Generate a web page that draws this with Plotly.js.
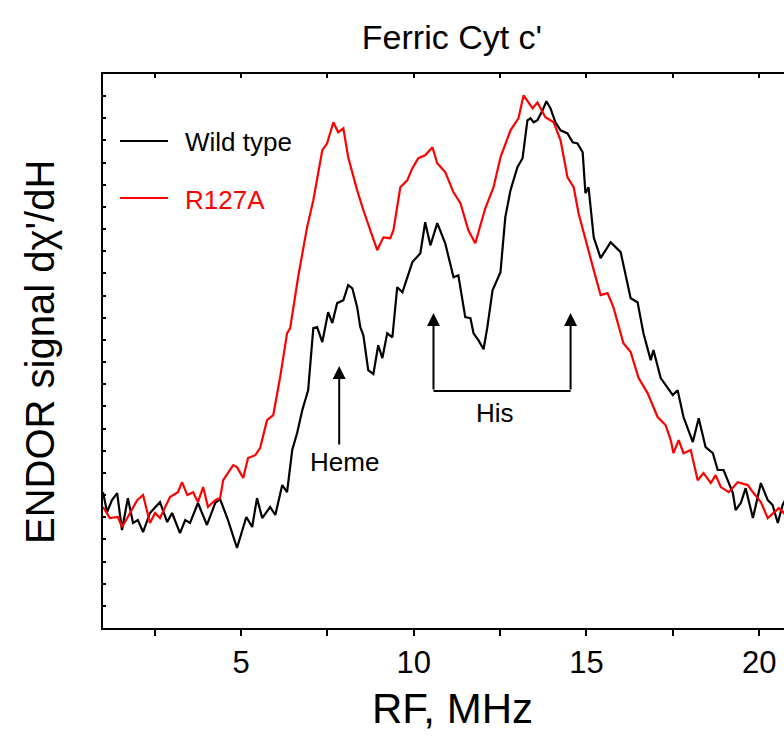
<!DOCTYPE html>
<html>
<head>
<meta charset="utf-8">
<script src="https://cdn.plot.ly/plotly-3.0.1.min.js"></script>
<style>html,body{margin:0;padding:0;background:#fff;overflow:hidden}</style>
</head>
<body>
<div id="chart" style="width:784px;height:740px"></div>
<script>
// RF frequency (MHz) and ENDOR signal (arbitrary units) — Wild type
const wtFreq = [1.00,1.12,1.26,1.41,1.55,1.72,1.87,2.01,2.16,2.36,2.65,2.86,3.00,3.23,3.38,3.52,3.75,4.01,4.25,4.39,4.62,4.88,5.15,5.32,5.46,5.61,5.84,5.99,6.19,6.33,6.48,6.62,6.77,6.94,7.09,7.20,7.35,7.52,7.64,7.78,7.96,8.10,8.22,8.36,8.45,8.54,8.68,8.83,8.97,9.09,9.23,9.38,9.52,9.67,9.96,10.19,10.33,10.48,10.68,10.91,11.15,11.29,11.49,11.64,11.73,11.87,12.02,12.13,12.28,12.51,12.65,12.80,13.00,13.15,13.29,13.38,13.47,13.58,13.73,13.84,13.96,14.10,14.25,14.45,14.60,14.74,14.89,14.97,15.06,15.21,15.41,15.70,15.99,16.19,16.28,16.48,16.65,16.86,16.94,17.15,17.35,17.50,17.64,17.81,18.08,18.25,18.45,18.66,18.80,18.97,19.24,19.32,19.47,19.61,19.82,20.05,20.25,20.39,20.54,20.68,20.80];
const wtSignal = [6.13,5.23,5.77,6.09,4.42,5.86,4.74,4.87,4.33,5.19,5.68,4.78,5.19,4.28,4.87,4.74,5.64,4.65,5.64,5.82,4.87,3.61,5.01,4.56,5.86,4.96,5.46,5.10,6.45,6.13,8.03,8.79,9.83,10.73,13.53,13.58,12.90,14.25,13.76,14.66,14.79,15.47,15.33,14.48,13.58,13.21,11.64,11.46,12.76,12.18,13.30,13.12,15.38,15.15,16.51,16.91,18.31,17.27,18.27,17.36,15.83,15.92,14.03,13.98,13.30,12.99,12.58,13.58,15.24,16.06,18.54,19.75,20.79,21.20,22.91,23.00,22.82,22.91,23.36,23.77,23.45,22.82,22.46,22.32,21.92,21.87,21.47,19.62,19.89,17.63,16.69,17.41,16.96,15.56,14.88,14.70,13.30,12.09,12.54,11.28,10.87,10.51,10.73,9.52,8.39,9.47,8.16,7.89,7.13,7.13,6.09,5.32,5.64,6.31,4.96,6.54,5.77,5.55,4.74,5.55,5.91];

// R127A mutant
const mutFreq = [1.00,1.20,1.43,1.55,1.72,1.99,2.16,2.36,2.51,2.65,2.94,3.17,3.29,3.44,3.61,3.75,3.90,4.04,4.25,4.39,4.48,4.77,4.88,5.06,5.20,5.41,5.55,5.75,5.93,6.13,6.33,6.42,6.65,6.91,7.09,7.35,7.49,7.67,7.81,7.96,8.10,8.36,8.54,8.74,8.94,9.12,9.32,9.41,9.61,9.81,9.96,10.13,10.33,10.54,10.68,10.91,11.15,11.35,11.58,11.78,12.07,12.31,12.51,12.80,13.03,13.18,13.44,13.58,13.81,14.05,14.25,14.45,14.63,14.77,14.97,15.21,15.41,15.61,15.78,16.07,16.28,16.51,16.77,17.06,17.29,17.44,17.52,17.67,17.81,18.02,18.22,18.39,18.60,18.74,18.89,19.12,19.38,19.67,19.84,20.05,20.25,20.42,20.57,20.71,20.83];
const mutSignal = [5.46,4.96,5.01,4.56,5.01,5.77,6.00,4.74,5.19,4.96,5.91,6.13,6.58,6.00,6.13,5.68,6.36,5.46,5.77,5.86,6.67,7.35,7.26,6.77,7.67,7.80,8.12,9.38,9.61,11.32,13.30,13.53,15.83,18.09,19.30,21.56,21.87,22.82,22.37,22.55,21.24,19.75,18.85,17.95,17.05,17.63,17.59,17.95,19.89,20.20,20.75,21.20,21.33,21.69,20.97,20.57,19.66,19.17,17.95,17.36,18.94,19.89,21.24,22.46,23.00,24.04,23.45,23.72,23.05,22.82,22.01,20.34,19.89,18.72,17.50,16.15,15.02,15.11,14.48,12.85,12.45,11.28,10.60,9.52,9.16,8.48,7.89,8.48,7.89,8.03,6.67,6.99,6.54,6.90,6.36,6.13,6.58,6.45,6.09,5.68,4.96,5.19,5.41,5.19,5.55];

const xTickVals = [2.5,5,7.5,10,12.5,15,17.5,20];
const xTickText = ['','5','','10','','15','','20'];
const seriesNames = ['Wild type','R127A'];
const seriesColors = ['#000000','#ff0000'];

const xRange = [1, 20.72];
const yRange = [0, 25];

// annotation anchor points (MHz, signal units)
const hemeArrow = {x: 7.84, tipY: 11.82, tailY: 8.21, labelX: 7.99, labelY: 7.49};
const hisArrows = {x1: 10.57, x2: 14.54, tipY: 14.21, baseY: 10.69, labelX: 12.36, labelY: 9.70};

const FONT = 'Arial, "Liberation Sans", sans-serif';

const traces = [
  {x: wtFreq, y: wtSignal, type: 'scatter', mode: 'lines', name: seriesNames[0],
   line: {color: seriesColors[0], width: 2.2}, showlegend: false, hoverinfo: 'skip'},
  {x: mutFreq, y: mutSignal, type: 'scatter', mode: 'lines', name: seriesNames[1],
   line: {color: seriesColors[1], width: 2.2}, showlegend: false, hoverinfo: 'skip'},
  {x: [xRange[0]], y: [null], xaxis: 'x2', yaxis: 'y', type: 'scatter', mode: 'lines',
   showlegend: false, hoverinfo: 'skip'}
];

const arrowStyle = {showarrow: true, arrowhead: 2, arrowsize: 1.3, arrowwidth: 2, arrowcolor: '#000',
  xref: 'x', yref: 'y', axref: 'x', ayref: 'y', text: ''};

const layout = {
  width: 784, height: 740,
  margin: {l: 103, r: 0, t: 74, b: 112},
  paper_bgcolor: '#fff', plot_bgcolor: '#fff',
  font: {family: FONT, color: '#000'},
  title: {text: "Ferric Cyt c'", font: {size: 34, family: FONT, color: '#000'},
          x: 0.5765, xref: 'container', xanchor: 'center', y: 1 - 37/740, yref: 'container', yanchor: 'middle'},
  xaxis: {range: xRange, showgrid: false, zeroline: false, showline: true, linewidth: 2, linecolor: '#000',
          ticks: 'outside', ticklen: 6, tickwidth: 2, tickcolor: '#000',
          tickmode: 'array', tickvals: xTickVals, ticktext: xTickText,
          tickfont: {size: 31, family: FONT, color: '#000'}, mirror: false},
  xaxis2: {range: xRange, overlaying: 'x', side: 'top', showgrid: false, zeroline: false,
           showline: true, linewidth: 2, linecolor: '#000', ticks: 'inside', ticklen: 4, tickwidth: 2,
           tickcolor: '#000', tickmode: 'array', tickvals: xTickVals, showticklabels: false},
  yaxis: {range: yRange, showgrid: false, zeroline: false, showline: true, linewidth: 2, linecolor: '#000',
          ticks: 'inside', ticklen: 3, tickwidth: 2, tickcolor: '#000', dtick: 1, tick0: 0,
          showticklabels: false, mirror: false},
  shapes: [
    {type: 'line', xref: 'paper', yref: 'paper', x0: (120-103)/681, x1: (168-103)/681,
     y0: (628-141)/554, y1: (628-141)/554, line: {color: seriesColors[0], width: 2}},
    {type: 'line', xref: 'paper', yref: 'paper', x0: (120-103)/681, x1: (168-103)/681,
     y0: (628-198)/554, y1: (628-198)/554, line: {color: seriesColors[1], width: 2}},
    {type: 'line', xref: 'x', yref: 'y', x0: hisArrows.x1, x1: hisArrows.x2, y0: hisArrows.baseY, y1: hisArrows.baseY,
     line: {color: '#000', width: 2}}
  ],
  annotations: [
    {text: seriesNames[0], xref: 'paper', yref: 'paper', x: (183-103)/681, y: (628-142)/554,
     xanchor: 'left', yanchor: 'middle', showarrow: false, font: {size: 26, color: seriesColors[0], family: FONT}},
    {text: seriesNames[1], xref: 'paper', yref: 'paper', x: (183-103)/681, y: (628-200)/554,
     xanchor: 'left', yanchor: 'middle', showarrow: false, font: {size: 26, color: seriesColors[1], family: FONT}},
    Object.assign({}, arrowStyle, {x: hemeArrow.x, y: hemeArrow.tipY, ax: hemeArrow.x, ay: hemeArrow.tailY}),
    Object.assign({}, arrowStyle, {x: hisArrows.x1, y: hisArrows.tipY, ax: hisArrows.x1, ay: hisArrows.baseY}),
    Object.assign({}, arrowStyle, {x: hisArrows.x2, y: hisArrows.tipY, ax: hisArrows.x2, ay: hisArrows.baseY}),
    {text: 'Heme', xref: 'x', yref: 'y', x: hemeArrow.labelX, y: hemeArrow.labelY, showarrow: false,
     xanchor: 'center', yanchor: 'middle', font: {size: 26, family: FONT, color: '#000'}},
    {text: 'His', xref: 'x', yref: 'y', x: hisArrows.labelX, y: hisArrows.labelY, showarrow: false,
     xanchor: 'center', yanchor: 'middle', font: {size: 26, family: FONT, color: '#000'}},
    {text: 'RF, MHz', xref: 'paper', yref: 'paper', x: (452-103)/681, y: (628-708)/554, showarrow: false,
     xanchor: 'center', yanchor: 'middle', font: {size: 42, family: FONT, color: '#000'}},
    {text: "ENDOR signal d\u03C7'/dH", xref: 'paper', yref: 'paper', x: (40-103)/681, y: (628-352)/554,
     showarrow: false, textangle: -90, xanchor: 'center', yanchor: 'middle',
     font: {size: 40, family: FONT, color: '#000'}}
  ]
};

Plotly.newPlot('chart', traces, layout, {staticPlot: true, displayModeBar: false});
</script>
</body>
</html>
